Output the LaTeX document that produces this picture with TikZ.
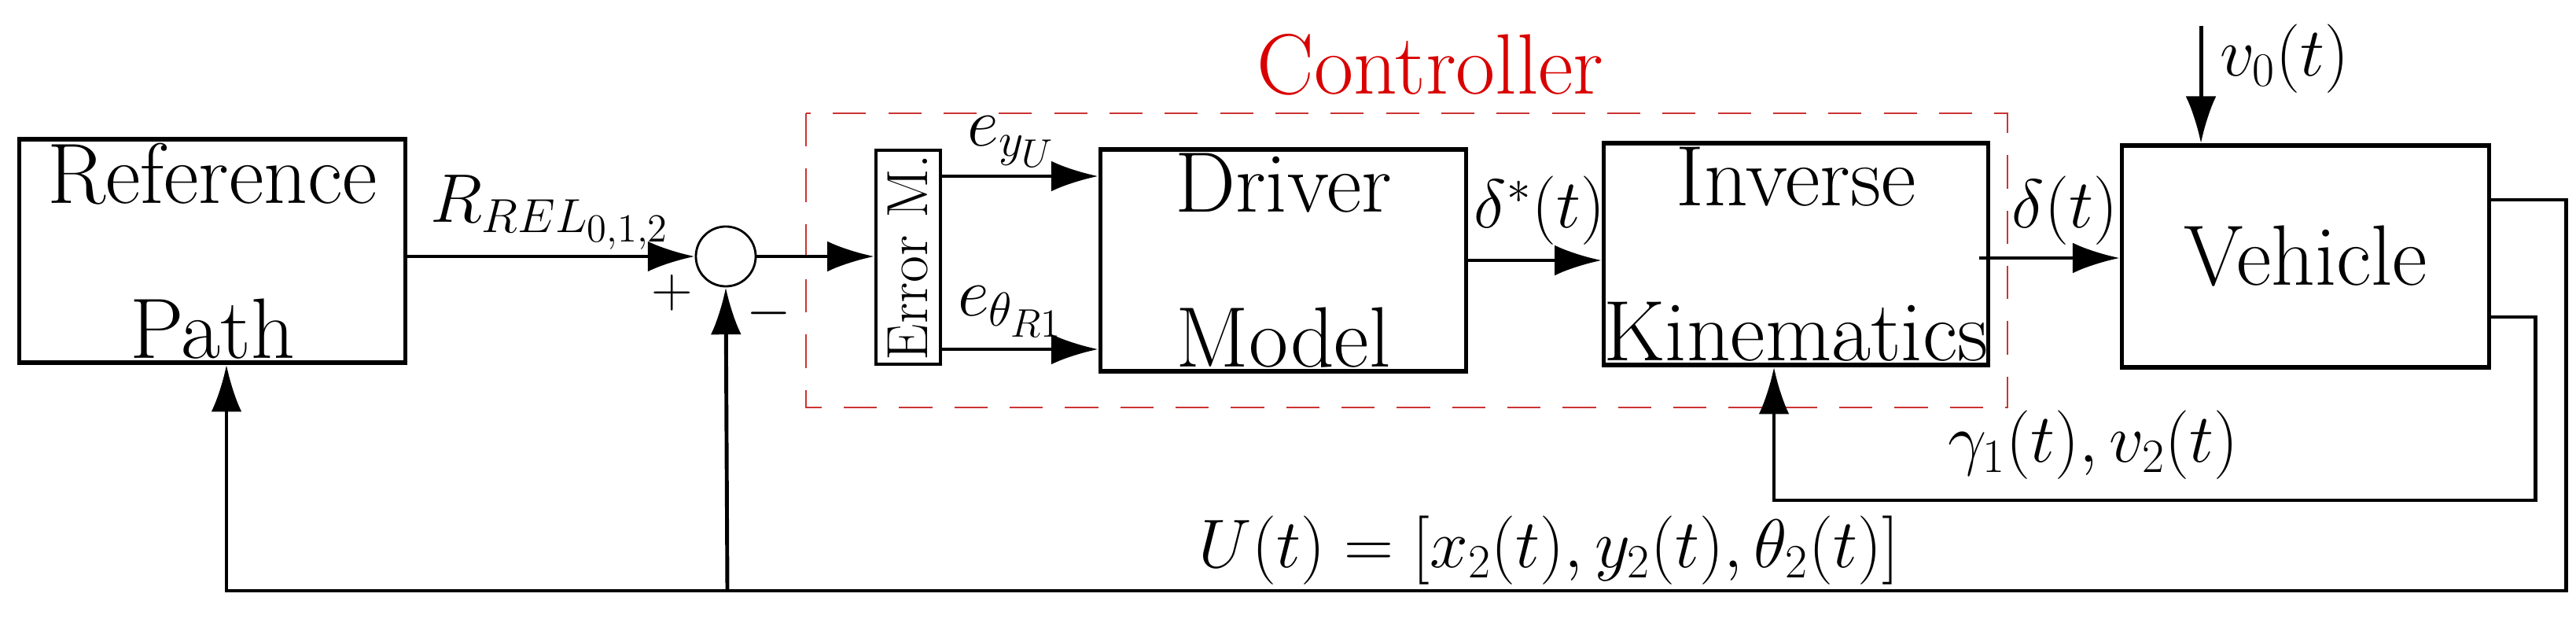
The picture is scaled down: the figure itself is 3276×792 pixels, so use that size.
\documentclass[tikz,border=0pt]{standalone}
\usetikzlibrary{arrows.meta}
\begin{document}
\begin{tikzpicture}[x=0.01cm,y=-0.01cm,
  every node/.style={font=\fontsize{27}{32}\selectfont},
  blk/.style={draw,line width=1.5pt,inner sep=0pt,align=center,font=\fontsize{31}{36}\selectfont},
  arr/.style={line width=1.4pt,-{Latex[length=17pt,width=11pt]}},
  ln/.style={line width=1.4pt},
  lab/.style={inner sep=0pt}]
\useasboundingbox (0,0) rectangle (3276,792);
\node[blk,minimum width=4.91cm,minimum height=2.84cm] (ref) at (270,319) {Reference\\[20pt]Path};
\node[draw,circle,line width=0.8pt,minimum size=0.76cm,inner sep=0pt] (sum) at (923,326) {};
\node[blk,minimum width=0.82cm,minimum height=2.72cm,line width=1.2pt] (err) at (1155,327) {};
\node[rotate=90,font=\fontsize{21}{24}\selectfont] at (err.center) {Error M.};
\node[blk,minimum width=4.65cm,minimum height=2.82cm] (drv) at (1632,331) {Driver\\[20pt]Model};
\node[blk,minimum width=4.65cm,minimum height=2.82cm] (ik) at (2284,323) {Inverse\\[20pt]Kinematics};
\node[blk,minimum width=4.67cm,minimum height=2.82cm] (veh) at (2932,326) {Vehicle};
\draw[red!75!black!80,dashed,line width=0.8pt,dash pattern=on 12pt off 8pt] (1025,144) rectangle (2553,518);
\node[red!85!black,lab,font=\fontsize{31}{36}\selectfont] at (1819,82) {Controller};
% forward path
\draw[arr] (ref.east |- sum.west) -- (sum.west);
\draw[arr] (sum.east) -- (sum.east -| err.west);
\coordinate (e1) at (1196,224);
\coordinate (e2) at (1196,444);
\draw[arr] (e1) -- (e1 -| drv.west);
\draw[arr] (e2) -- (e2 -| drv.west);
\coordinate (d1) at (1865,331);
\coordinate (d2) at (2517,328);
\draw[arr] (d1) -- (d1 -| ik.west);
\draw[arr] (d2) -- (d2 -| veh.west);
\coordinate (v0) at (2799,33);
\draw[arr] (v0) -- (v0 |- veh.north);
% feedback
\coordinate (o1) at (3166,254);
\coordinate (o2) at (3166,403);
\coordinate (br) at (925,751);
\coordinate (rb) at (288,751);
\coordinate (ib) at (2256,636);
\draw[ln] (o1) -- (3263,254) -- (3263,751) -- (br);
\draw[arr] (br) -- (rb) -- (rb |- ref.south);
\draw[arr] (br) -- (sum.south);
\draw[arr] (o2) -- (3224,403) -- (3224,636) -- (ib) -- (ib |- ik.south);
% labels
\node[lab] at (700,270) {$R_{REL_{0,1,2}}$};
\node[lab,font=\fontsize{20}{24}\selectfont] at (855,372) {$+$};
\node[lab,font=\fontsize{20}{24}\selectfont] at (978,398) {$-$};
\node[lab] at (1286,180) {$e_{y_U}$};
\node[lab] at (1285,396) {$e_{\theta_{R1}}$};
\node[lab] at (1958,268) {$\delta^{*}(t)$};
\node[lab] at (2626,268) {$\delta(t)$};
\node[lab] at (2905,75) {$v_0(t)$};
\node[lab] at (2662,566) {$\gamma_1(t),v_2(t)$};
\node[lab] at (1970,700) {$U(t)=[x_2(t),y_2(t),\theta_2(t)]$};
\end{tikzpicture}
\end{document}
